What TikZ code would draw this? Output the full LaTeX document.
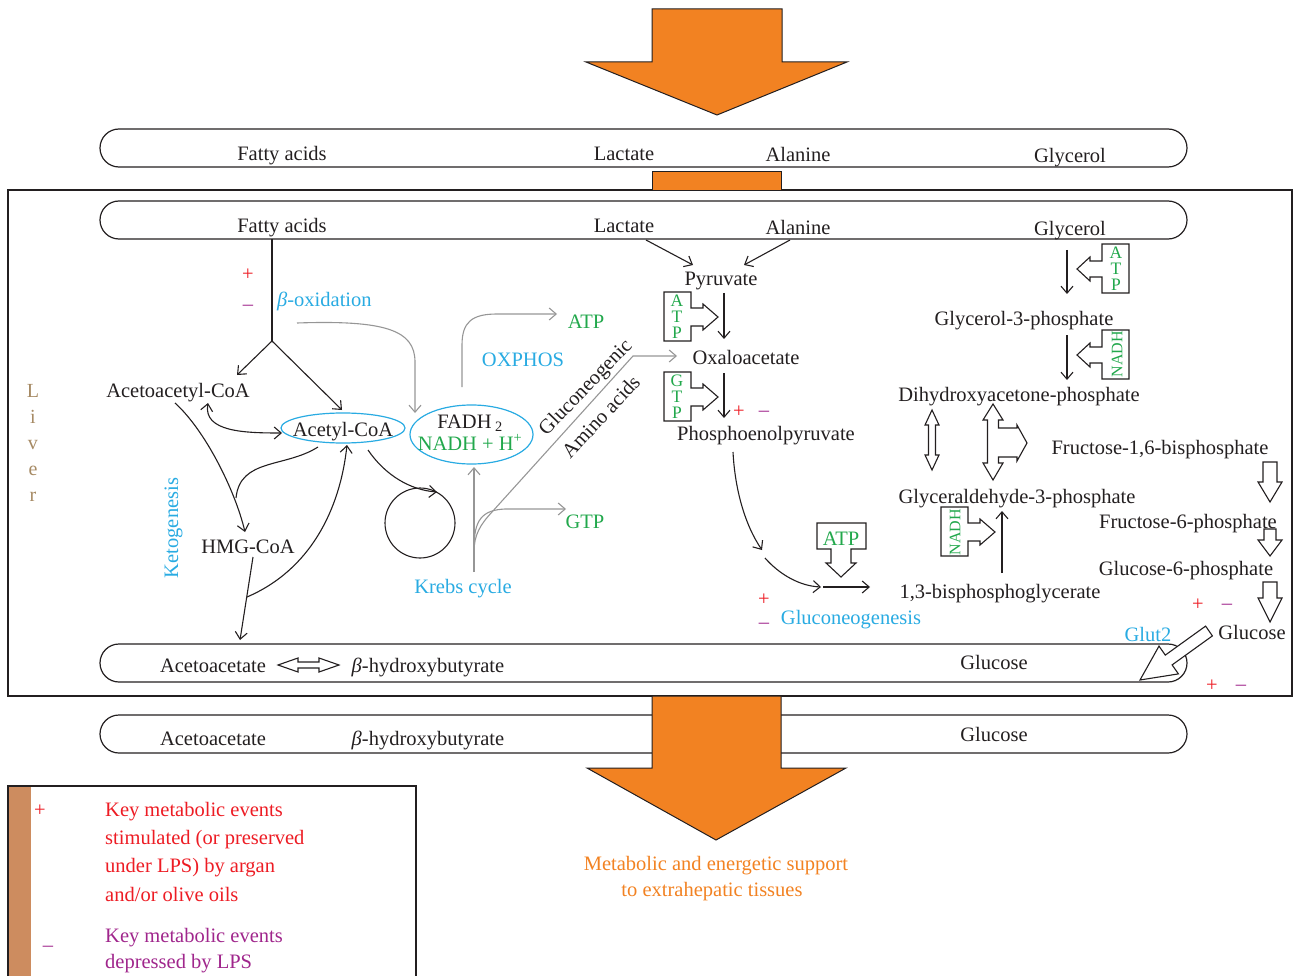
\documentclass[tikz,border=0pt]{standalone}
\usepackage{fontspec}
\setmainfont{Liberation Serif}
\usetikzlibrary{arrows.meta,shapes.geometric}
\definecolor{ink}{RGB}{35,31,32}
\definecolor{orng}{RGB}{242,130,34}
\definecolor{bl}{RGB}{41,171,226}
\definecolor{grn}{RGB}{34,168,76}
\definecolor{rd}{RGB}{237,28,36}
\definecolor{prp}{RGB}{160,38,140}
\definecolor{tan}{RGB}{166,138,100}
\definecolor{brn}{RGB}{205,140,95}
\definecolor{gry}{RGB}{150,150,150}
\newcommand\fz{\fontsize{20.5}{24}\selectfont}
\begin{document}
\begin{tikzpicture}[x=1pt,y=-1pt,
  >={Straight Barb[length=7pt,width=12pt]},
  lbl/.style={inner sep=0pt, text height=16pt, text depth=0pt, font=\fz, text=ink},
  blab/.style={lbl, text=bl},
  glab/.style={lbl, text=grn},
  plus/.style={lbl, text=rd},
  minus/.style={lbl, text=prp},
  ln/.style={draw=ink, line width=1.1pt},
  arr/.style={draw=ink, line width=1.1pt, ->},
  garr/.style={draw=gry, line width=1.1pt, ->},
  blk/.style={draw=ink, line width=1.1pt, fill=white, line join=miter},
  pill/.style={draw=ink, line width=1.2pt, rounded corners=19pt},
  big/.style={draw=ink, line width=1pt, fill=orng, line join=miter},
  stack/.style={inner sep=0pt, text=grn, align=center, font=\fontsize{17.5}{16}\selectfont},
  vnadh/.style={inner sep=0pt, text=grn, rotate=90, font=\fontsize{16}{16}\selectfont}]
\useasboundingbox (0,0) rectangle (1293,976);

% liver box and pills
\draw[ln, line width=1.2pt] (8,190) rectangle (1292,696);
\draw[pill] (100,129) rectangle (1187,167);
\draw[pill] (100,201) rectangle (1187,239);
\draw[pill] (100,644) rectangle (1187,682);
\draw[pill] (100,715) rectangle (1187,753);

% orange arrows
\draw[big] (652,9) -- (782,9) -- (782,62) -- (847,62) -- (717,115) -- (586,62) -- (652,62) -- cycle;
\fill[orng] (652,172) rectangle (781,190);
\draw[ln, line width=1pt] (652,190) -- (652,172) -- (781,172) -- (781,190);
\draw[big] (652,696) -- (781,696) -- (781,768) -- (846,768) -- (716,840) -- (587,768) -- (652,768) -- cycle;

% pill texts
\node[lbl] (fa0) at (282,153) {Fatty acids};
\node[lbl] (lac0) at (624,153) {Lactate};
\node[lbl] (ala0) at (798,154) {Alanine};
\node[lbl] (gly0) at (1070,155) {Glycerol};
\node[lbl] (fa) at (282,225) {Fatty acids};
\node[lbl] (lac) at (624,225) {Lactate};
\node[lbl] (ala) at (798,227) {Alanine};
\node[lbl] (gly) at (1070,228) {Glycerol};
\node[lbl] (aca) at (213,664) {Acetoacetate};
\node[lbl] (bhb) at (428,664) {\textit{β}-hydroxybutyrate};
\node[lbl] (glcp) at (994,661) {Glucose};
\node[lbl] (aca0) at (213,737) {Acetoacetate};
\node[lbl] (bhb0) at (428,737) {\textit{β}-hydroxybutyrate};
\node[lbl] (glc0) at (994,733) {Glucose};

% liver label
\node[inner sep=0pt, text=tan, align=center, font=\fontsize{20}{26}\selectfont] (liver) at (33,443) {L\\i\\v\\e\\r};

% left part: beta-oxidation, ketogenesis
\node[plus] (p1) at (248,273) {+};
\node[minus] (m1) at (248,302) {–};
\node[blab, anchor=west] (box) at (277,298) {\textit{β}-oxidation};
\node[lbl] (aacoa) at (178,389) {Acetoacetyl-CoA};
\node[ellipse, draw=bl, line width=1.2pt, minimum width=124pt, minimum height=30pt, inner sep=0pt] (acel) at (343,428) {};
\node[lbl] (acoa) at (343,428) {Acetyl-CoA};
\node[lbl] (hmg) at (248,545) {HMG-CoA};
\node[blab, rotate=90] (keto) at (170,528) {Ketogenesis};
\node[circle, draw=ink, line width=1.1pt, minimum size=70pt, inner sep=0pt] (krc) at (420,523) {};
\node[blab] (krebs) at (463,585) {Krebs cycle};
\node[ellipse, draw=bl, line width=1.2pt, minimum width=123pt, minimum height=59pt, inner sep=0pt] (fadel) at (471.5,434.5) {};
\node[lbl] (fadh) at (470,420) {FADH\,\textsubscript{2}};
\node[glab] (nadh) at (470,442) {NADH + H\textsuperscript{+}};
\node[blab] (oxph) at (523,358) {OXPHOS};
\node[glab] (atp1) at (586,321) {ATP};
\node[glab] (gtp1) at (585,520) {GTP};
\node[lbl, rotate=46] (glneo) at (584,386) {Gluconeogenic};
\node[lbl, rotate=47] (amino) at (600,416) {Amino acids};

\coordinate (bo1) at (272,239);
\coordinate (bo2) at (272,341);
\draw[ln] (bo1) -- (bo2);
\draw[arr] (bo2) -- (237,375);
\draw[arr] (bo2) -- (342,410);
\draw[garr] (297,323) .. controls (385,320) and (415,330) .. (415,362) -- (415,413);
\draw[arr, <->] (208,403) .. controls (203,432) and (245,433) .. (282,433);
\draw[arr] (175,403) .. controls (205,430) and (235,490) .. (245,532);
\draw[ln] (318,447) .. controls (285,468) and (240,458) .. (236,498);
\draw[arr] (253,557) -- (240,640);
\draw[arr] (247,597) .. controls (310,570) and (340,510) .. (347,445);
\draw[arr] (368,450) .. controls (385,475) and (410,490) .. (437,492);
\draw[garr] (474,572) -- (474,467);
\draw[garr] (474,548) .. controls (474,520) and (482,510) .. (505,509) -- (566,509);
\draw[garr] (474,552) .. controls (474,535) and (480,525) .. (492,512) -- (633,356) -- (677,356);
\draw[garr] (462,387) -- (462,345) .. controls (462,322) and (472,314) .. (497,314) -- (557,314);

% acetoacetate <=> beta-hydroxybutyrate
\draw[blk] (278,665) -- (298,658) -- (298,662) -- (319,662) -- (319,658) -- (339,665) -- (319,672) -- (319,668) -- (298,668) -- (298,672) -- cycle;

% centre: pyruvate etc.
\node[lbl] (pyr) at (721,278) {Pyruvate};
\node[lbl] (oxa) at (746,356) {Oxaloacetate};
\node[lbl] (pep) at (766,432) {Phosphoenolpyruvate};
\draw[arr] (646,240) -- (693,265);
\draw[arr] (790,240) -- (744,265);
\draw[arr] (724,293) -- (724,339);
\draw[arr] (724,373) -- (724,418);
\draw[blk, shift={(664,292)}] (27,0) -- (0,0) -- (0,49) -- (27,49) -- (27,34) -- (39,34) -- (39,38) -- (54,25) -- (39,12) -- (39,16) -- (27,16) -- cycle;
\node[stack] (atpb1) at (677,317) {A\\T\\P};
\draw[blk, shift={(664,372)}] (27,0) -- (0,0) -- (0,49) -- (27,49) -- (27,34) -- (39,34) -- (39,38) -- (54,25) -- (39,12) -- (39,16) -- (27,16) -- cycle;
\node[stack] (gtpb) at (677,397) {G\\T\\P};
\node[plus] (p2) at (739,409) {+};
\node[minus] (m2) at (764,408) {–};

\draw[arr] (733,452) .. controls (735,490) and (745,525) .. (762,550);
\draw[arr] (765,558) .. controls (780,575) and (800,586) .. (821,587);
\draw[arr] (823,587) -- (870,587);
\draw[blk] (817,549) -- (817,523) -- (866,523) -- (866,549) -- (851,549) -- (851,563) -- (856,563) -- (841,577) -- (826,563) -- (831,563) -- (831,549) -- cycle;
\node[glab] (atpb2) at (841,537) {ATP};
\node[plus] (p3) at (764,597) {+};
\node[minus] (m3) at (764,620) {–};
\node[blab] (gneo) at (851,616) {Gluconeogenesis};

% right part
\node[lbl] (g3p) at (1024,318) {Glycerol-3-phosphate};
\node[lbl] (dhap) at (1019,393) {Dihydroxyacetone-phosphate};
\node[lbl] (f16) at (1160,446) {Fructose-1,6-bisphosphate};
\node[lbl] (gap) at (1017,495) {Glyceraldehyde-3-phosphate};
\node[lbl] (bpg) at (1000,590) {1,3-bisphosphoglycerate};
\node[lbl] (f6p) at (1188,520) {Fructose-6-phosphate};
\node[lbl] (g6p) at (1186,567) {Glucose-6-phosphate};
\node[lbl] (glc) at (1252,631) {Glucose};
\node[blab] (glut) at (1148,633) {Glut2};
\node[plus] (p4) at (1198,602) {+};
\node[minus] (m4) at (1227,601) {–};
\node[plus] (p5) at (1212,683) {+};
\node[minus] (m5) at (1241,682) {–};

\draw[arr] (1067,250) -- (1067,294);
\draw[arr] (1067,335) -- (1067,380);
\draw[blk, shift={(1102,244)}] (0,0) -- (27,0) -- (27,49) -- (0,49) -- (0,33) -- (-12,33) -- (-12,37) -- (-25,25) -- (-12,13) -- (-12,17) -- (0,17) -- cycle;
\node[stack] (atpb3) at (1116,269) {A\\T\\P};
\draw[blk, shift={(1102,330)}] (0,0) -- (27,0) -- (27,49) -- (0,49) -- (0,33) -- (-12,33) -- (-12,37) -- (-25,25) -- (-12,13) -- (-12,17) -- (0,17) -- cycle;
\node[vnadh] (nadhb1) at (1117,354) {NADH};

\draw[blk] (932,410) -- (939,425) -- (935.5,425) -- (935.5,455) -- (939,455) -- (932,470) -- (925,455) -- (928.5,455) -- (928.5,425) -- (925,425) -- cycle;
\draw[blk] (993,404) -- (1003,420) -- (998.5,420) -- (998.5,428) -- (1017,428) -- (1017,425) -- (1027,443) -- (1017,461) -- (1017,457) -- (998.5,457) -- (998.5,463) -- (1003,463) -- (993,480) -- (983,463) -- (987.5,463) -- (987.5,420) -- (983,420) -- cycle;

\draw[arr] (1002,573) -- (1002,511);
\draw[blk, shift={(941,507)}] (27,0) -- (0,0) -- (0,49) -- (27,49) -- (27,34) -- (39,34) -- (39,38) -- (54,25) -- (39,12) -- (39,16) -- (27,16) -- cycle;
\node[vnadh] (nadhb2) at (955,532) {NADH};

\draw[blk] (1263,462) -- (1277,462) -- (1277,482) -- (1282,482) -- (1270,502) -- (1258,482) -- (1263,482) -- cycle;
\draw[blk] (1264,529) -- (1276,529) -- (1276,540) -- (1282,540) -- (1270,556) -- (1258,540) -- (1264,540) -- cycle;
\draw[blk] (1263,582) -- (1277,582) -- (1277,598) -- (1282,598) -- (1270,622) -- (1258,598) -- (1263,598) -- cycle;
\draw[blk] (1212.4,635.9) -- (1172.1,664.9) -- (1178.4,673.9) -- (1140,680) -- (1159,646.1) -- (1165.3,655.1) -- (1205.6,626.1) -- cycle;

% bottom caption
\node[lbl, text=orng] (cap1) at (716,862) {Metabolic and energetic support};
\node[lbl, text=orng] (cap2) at (712,888) {to extrahepatic tissues};

% legend
\fill[brn] (8,786) rectangle (31,976);
\draw[ln] (8,977) -- (8,786) -- (416,786) -- (416,977);
\node[plus] (lp) at (40,808) {+};
\node[lbl, text=rd, anchor=west] (l1) at (105,808) {Key metabolic events};
\node[lbl, text=rd, anchor=west] (l2) at (105,836) {stimulated (or preserved};
\node[lbl, text=rd, anchor=west] (l3) at (105,864) {under LPS) by argan};
\node[lbl, text=rd, anchor=west] (l4) at (105,893) {and/or olive oils};
\node[minus] (lm) at (48,943) {–};
\node[lbl, text=prp, anchor=west] (l5) at (105,934) {Key metabolic events};
\node[lbl, text=prp, anchor=west] (l6) at (105,960) {depressed by LPS};
\end{tikzpicture}
\end{document}
